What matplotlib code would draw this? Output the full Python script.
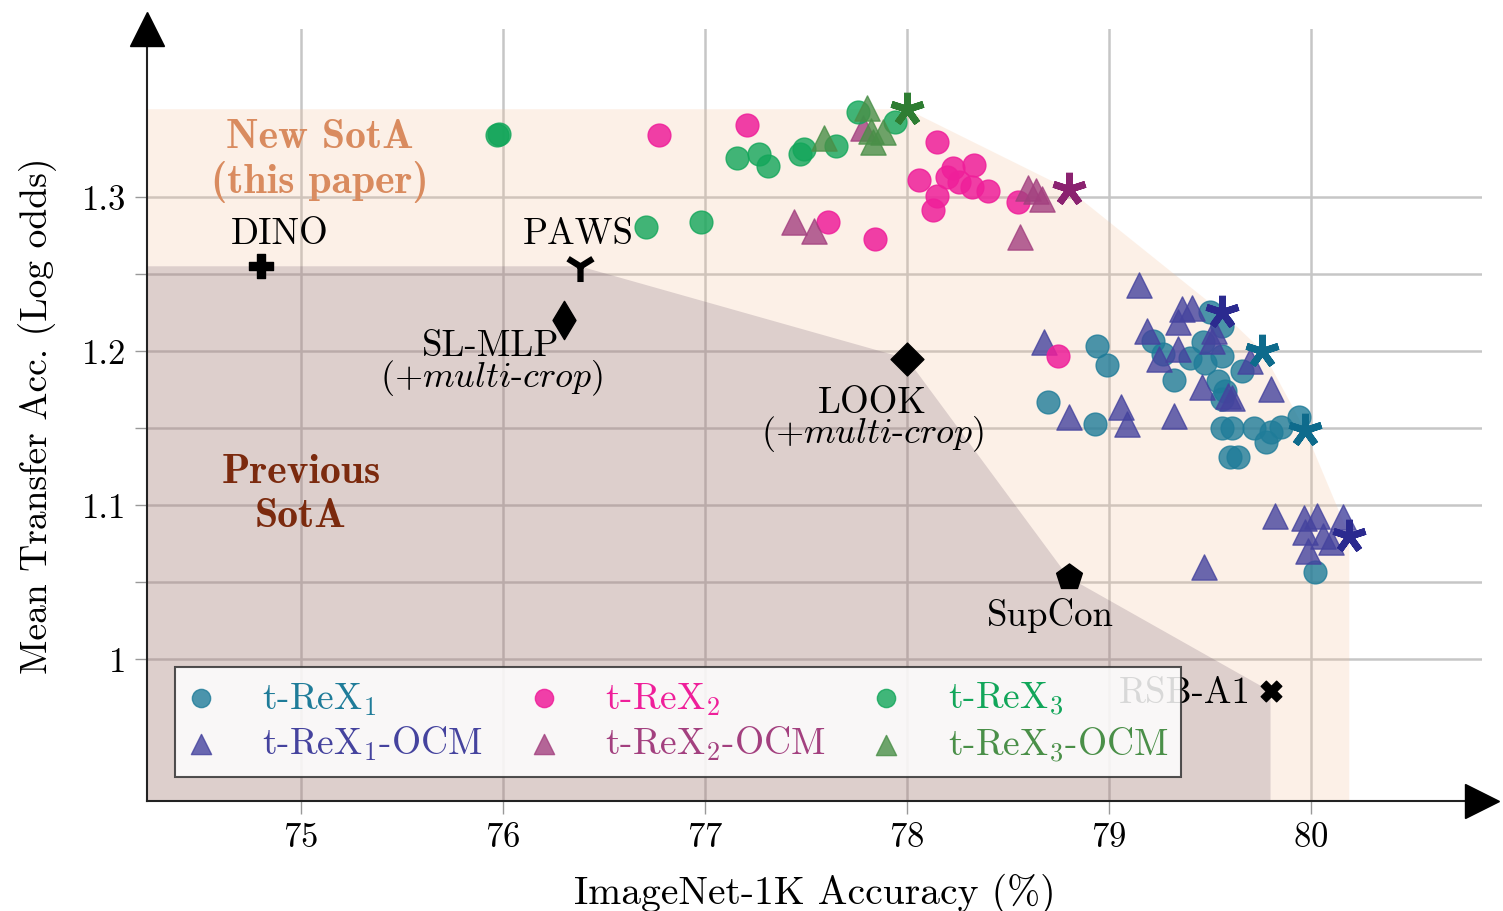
import numpy as np
import matplotlib.pyplot as plt

plt.rcParams['font.family'] = ['cmr10', 'DejaVu Serif']
plt.rcParams['mathtext.fontset'] = 'cm'
plt.rcParams['axes.formatter.use_mathtext'] = True

# t-ReX1 (circles) and t-ReX1-OCM (triangles)
rex1_x = [78.94, 78.99, 78.70, 78.93, 79.22, 79.27, 79.32, 79.40, 79.475, 79.56, 79.465, 79.50, 79.56,
          79.66, 79.54, 79.575, 79.56, 79.56, 79.61, 79.72, 79.78, 79.80, 79.85, 79.94, 79.60, 79.64, 80.02]
rex1_y = [1.203, 1.191, 1.167, 1.1526, 1.2065, 1.198, 1.181, 1.1955, 1.192, 1.197, 1.206, 1.225, 1.216,
          1.187, 1.1805, 1.174, 1.169, 1.150, 1.150, 1.150, 1.141, 1.1474, 1.1506, 1.157, 1.131, 1.131, 1.0565]
rex1ocm_x = [79.15, 78.68, 78.80, 79.06, 79.09, 79.32, 79.19, 79.25, 79.34, 79.36, 79.41, 79.34, 79.52, 79.51,
             79.70, 79.46, 79.59, 79.61, 79.80, 79.82, 79.965, 80.03, 80.16, 79.97, 80.06, 80.10, 79.985, 79.47]
rex1ocm_y = [1.243, 1.206, 1.157, 1.1636, 1.1526, 1.158, 1.213, 1.195, 1.201, 1.227, 1.228, 1.219, 1.213, 1.2065,
             1.1935, 1.1766, 1.171, 1.1695, 1.175, 1.093, 1.0916, 1.093, 1.092, 1.0825, 1.080, 1.076, 1.070, 1.060]

# t-ReX2
rex2_x = [76.77, 77.21, 77.61, 77.84, 78.15, 78.06, 78.23, 78.20, 78.33, 78.26, 78.32, 78.40, 78.15, 78.13, 78.55, 78.75]
rex2_y = [1.340, 1.347, 1.284, 1.273, 1.336, 1.311, 1.319, 1.313, 1.321, 1.310, 1.3065, 1.304, 1.3006, 1.2916, 1.297, 1.197]
rex2ocm_x = [77.78, 77.44, 77.54, 78.60, 78.64, 78.67, 78.56]
rex2ocm_y = [1.345, 1.284, 1.278, 1.306, 1.304, 1.299, 1.274]

# t-ReX3
rex3_x = [75.97, 75.98, 76.71, 76.98, 77.16, 77.27, 77.31, 77.47, 77.49, 77.65, 77.76, 77.94]
rex3_y = [1.340, 1.341, 1.2805, 1.2838, 1.325, 1.328, 1.320, 1.328, 1.331, 1.333, 1.355, 1.349]
rex3ocm_x = [77.59, 77.80, 77.82, 77.88, 77.83]
rex3ocm_y = [1.338, 1.358, 1.343, 1.342, 1.336]

# highlighted (pareto) models
star_x = [78.00, 78.80, 79.56, 79.76, 79.97, 80.19]
star_y = [1.357, 1.305, 1.225, 1.200, 1.149, 1.080]
star_c = ['#2e7d32', '#8b2270', '#2b2a8f', '#0e6b8c', '#0e6b8c', '#2b2a8f']

# previous methods
base_names = ['DINO', 'PAWS', 'SL-MLP', 'LOOK', 'SupCon', 'RSB-A1']
base_x = [74.80, 76.38, 76.30, 78.00, 78.80, 79.80]
base_y = [1.255, 1.255, 1.220, 1.195, 1.053, 0.979]
base_m = ['P', '1', 'd', 'D', 'p', 'X']
base_s = [300, 500, 380, 280, 380, 220]
prev_front = ['PAWS', 'LOOK', 'SupCon', 'RSB-A1']

c1, c1o = '#1f7c99', '#45439e'
c2, c2o = '#ef1f9a', '#a3407f'
c3, c3o = '#12a65a', '#4a8f48'

xlo, xhi = 74.2376, 80.847
ylo, yhi = 0.9078, 1.4094

fig = plt.figure(figsize=(15.03, 9.12), dpi=100)
ax = fig.add_axes([0.0978, 0.12061, 0.88823, 0.84704])
ax.set_xlim(xlo, xhi)
ax.set_ylim(ylo, yhi)

ax.set_xticks([75, 76, 77, 78, 79, 80])
ax.set_yticks([1.0, 1.05, 1.1, 1.15, 1.2, 1.25, 1.3])
ax.set_yticklabels(['1', '', '1.1', '', '1.2', '', '1.3'])
ax.grid(True, color='#c6c6c6', lw=1.8, zorder=0)
ax.set_axisbelow(True)
ax.tick_params(axis='both', length=9, width=1, color='#999999', labelsize=25, pad=6)
for s in ['top', 'right']:
    ax.spines[s].set_visible(False)
for s in ['left', 'bottom']:
    ax.spines[s].set_color('#222222')
    ax.spines[s].set_linewidth(1.5)
ax.plot(1, 0, '>', color='k', ms=25, transform=ax.transAxes, clip_on=False, zorder=10)
ax.plot(0, 1, '^', color='k', ms=25, transform=ax.transAxes, clip_on=False, zorder=10)

# shaded regions built from the frontiers
order = np.argsort(star_x)
fx = [xlo, star_x[order[0]]] + [star_x[i] for i in order] + [star_x[order[-1]], xlo]
fy = [star_y[order[0]], star_y[order[0]]] + [star_y[i] for i in order] + [ylo, ylo]
ax.fill(fx, fy, color='#f5be96', alpha=0.22, lw=0, zorder=1)
px = [base_x[base_names.index(n)] for n in prev_front]
py = [base_y[base_names.index(n)] for n in prev_front]
ax.fill([xlo] + px + [px[-1], xlo], [py[0]] + py + [ylo, ylo], color='#644b64', alpha=0.2, lw=0, zorder=1)

ax.scatter(rex1_x, rex1_y, s=270, marker='o', color=c1, alpha=0.8, label='t-ReX$_1$', zorder=3)
ax.scatter(rex1ocm_x, rex1ocm_y, s=330, marker='^', color=c1o, alpha=0.8, label='t-ReX$_1$-OCM', zorder=3)
ax.scatter(rex2_x, rex2_y, s=270, marker='o', color=c2, alpha=0.85, label='t-ReX$_2$', zorder=3)
ax.scatter(rex2ocm_x, rex2ocm_y, s=330, marker='^', color=c2o, alpha=0.8, label='t-ReX$_2$-OCM', zorder=3)
ax.scatter(rex3_x, rex3_y, s=270, marker='o', color=c3, alpha=0.8, label='t-ReX$_3$', zorder=3)
ax.scatter(rex3ocm_x, rex3ocm_y, s=330, marker='^', color=c3o, alpha=0.8, label='t-ReX$_3$-OCM', zorder=3)

for x, y, c in zip(star_x, star_y, star_c):
    ax.plot(x, y, marker=(5, 2, 0), ms=24, mew=5, color=c, zorder=4)

for x, y, m, s in zip(base_x, base_y, base_m, base_s):
    if m == '1':
        ax.scatter(x, y, s=s, marker=m, color='k', linewidths=4.5, zorder=4)
    else:
        ax.scatter(x, y, s=s, marker=m, color='k', zorder=4)

fs = 26.5
ax.text(74.896, 1.2766, 'DINO', fontsize=fs, ha='center', va='center', zorder=2)
ax.text(76.371, 1.2766, 'PAWS', fontsize=fs, ha='center', va='center', zorder=2)
ax.text(75.94, 1.2039, 'SL-MLP', fontsize=fs, ha='center', va='center', zorder=2)
ax.text(75.94, 1.1831, r'$(+multi$-$crop)$', fontsize=26, ha='center', va='center', zorder=2)
ax.text(77.827, 1.1669, 'LOOK', fontsize=fs, ha='center', va='center', zorder=2)
ax.text(77.827, 1.1468, r'$(+multi$-$crop)$', fontsize=26, ha='center', va='center', zorder=2)
ax.text(78.708, 1.0292, 'SupCon', fontsize=fs, ha='center', va='center', zorder=2)
ax.text(79.70, 0.9786, 'RSB-A1', fontsize=fs, ha='right', va='center', zorder=2)

ax.text(75.094, 1.3396, 'New SotA', fontsize=30, family='cmb10', color='#d98b5f', ha='center', va='center', zorder=2)
ax.text(75.094, 1.3104, '(this paper)', fontsize=30, family='cmb10', color='#d98b5f', ha='center', va='center', zorder=2)
ax.text(75.0, 1.122, 'Previous', fontsize=30, family='cmb10', color='#7b2a0e', ha='center', va='center', zorder=2)
ax.text(75.0, 1.0935, 'SotA', fontsize=30, family='cmb10', color='#7b2a0e', ha='center', va='center', zorder=2)

ax.set_xlabel('ImageNet-1K Accuracy (%)', fontsize=28.5, labelpad=14)
ax.set_ylabel('Mean Transfer Acc. (Log odds)', fontsize=27, labelpad=18)

leg = ax.legend(ncol=3, loc='lower left', bbox_to_anchor=(0.0209, 0.031), borderaxespad=0, fontsize=27,
                frameon=True, fancybox=False, framealpha=0.85, edgecolor='#333333',
                markerscale=0.8, handletextpad=1.28, columnspacing=1.28, labelspacing=0.2,
                borderpad=0.35, handlelength=0.7)
leg.set_zorder(5)
leg.get_frame().set_linewidth(1.5)
for t, c in zip(leg.get_texts(), [c1, c1o, c2, c2o, c3, c3o]):
    t.set_color(c)

fig.savefig('out.png', dpi=100)
